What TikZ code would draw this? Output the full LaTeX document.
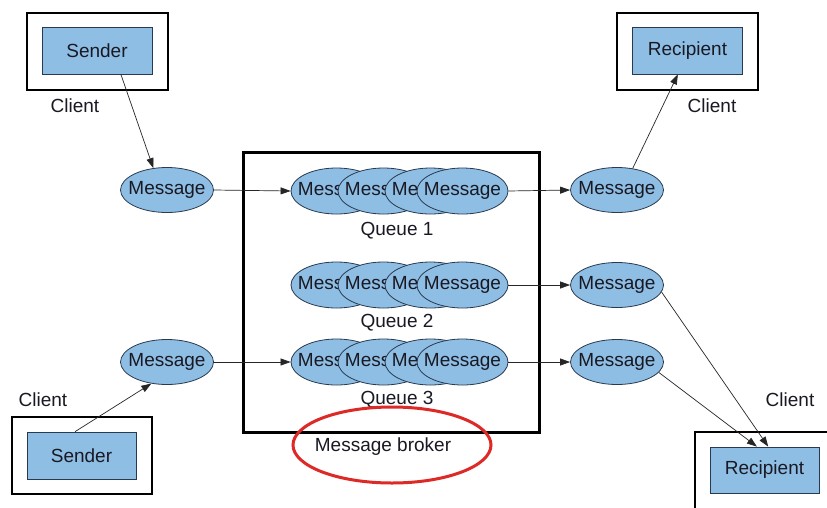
\documentclass[tikz,border=0pt]{standalone}
\usepackage{fontspec}
\setmainfont{Liberation Sans}
\usetikzlibrary{shapes.geometric,arrows.meta}
\definecolor{fillblue}{RGB}{143,190,228}
\definecolor{edgeblue}{RGB}{40,58,80}
\definecolor{brokerred}{RGB}{222,42,38}
\definecolor{inktext}{RGB}{25,25,35}
\newcommand{\nowidth}[1]{\makebox[0pt]{#1}}
\begin{document}
\begin{tikzpicture}[x=1pt,y=-1pt,
  font=\fontsize{19}{22}\selectfont, text=inktext,
  outerbox/.style={draw=black, line width=2pt, fill=white, minimum width=141pt, minimum height=77pt, inner sep=0pt},
  innerbox/.style={draw=edgeblue, line width=0.8pt, fill=fillblue, minimum width=110pt, minimum height=47pt, inner sep=0pt},
  msg/.style={ellipse, draw=edgeblue, line width=0.8pt, fill=fillblue, minimum width=93pt, minimum height=45pt, inner sep=0pt},
  qmsg/.style={msg, minimum width=91pt, minimum height=46pt},
  lbl/.style={inner sep=0pt},
  conn/.style={-{Triangle[length=10pt,width=7pt]}, line width=0.7pt, draw=black!85},
  brokerbox/.style={draw=black, line width=3pt, minimum width=296pt, minimum height=280pt, inner sep=0pt},
  highlight/.style={ellipse, draw=brokerred, line width=3pt, minimum width=198pt, minimum height=76pt, inner sep=0pt}
]
\clip (0,0) rectangle (827,507);
\fill[white] (0,0) rectangle (827,507);

% clients
\node[outerbox] (c1) at (97.5,51.5) {};
\node[innerbox] (s1) at (97,50.5) {Sender};
\node[lbl] (cl1) at (75,106) {Client};

\node[outerbox] (c2) at (687.5,51.5) {};
\node[innerbox] (rc1) at (687.5,50.5) {Recipient};
\node[lbl] (cl2) at (712,106) {Client};

\node[outerbox, minimum width=140pt] (c3) at (82,455.5) {};
\node[innerbox, minimum width=109pt] (s2) at (81.5,455.5) {Sender};
\node[lbl] (cl3) at (43,400) {Client};

\node[outerbox] (c4) at (765.5,470.5) {};
\node[innerbox, minimum width=109pt, minimum height=46pt] (rc2) at (764.5,470) {Recipient};
\node[lbl] (cl4) at (790,400) {Client};

% broker
\node[brokerbox] (broker) at (391,292) {};

% queues
\foreach \q/\y in {1/191,2/285,3/362}{
  \node[qmsg] (q\q a) at (336.5,\y) {\nowidth{Message}};
  \node[qmsg] (q\q b) at (383.5,\y) {\nowidth{Message}};
  \node[qmsg] (q\q c) at (430.5,\y) {\nowidth{Message}};
  \node[qmsg] (q\q d) at (462.5,\y) {\nowidth{Message}};
}
\node[lbl] (ql1) at (397,231) {Queue 1};
\node[lbl] (ql2) at (397,323) {Queue 2};
\node[lbl] (ql3) at (397,400) {Queue 3};

% messages outside
\node[msg] (m1) at (167,190) {\nowidth{Message}};
\node[msg] (m2) at (167,362) {\nowidth{Message}};
\node[msg] (r1) at (617,190) {\nowidth{Message}};
\node[msg] (r2) at (617,285) {\nowidth{Message}};
\node[msg] (r3) at (617,362) {\nowidth{Message}};

% broker label
\node[lbl] (bl) at (383,447) {Message broker};
\node[highlight] (hl) at (392,445) {};

% connectors
\draw[conn] (s1.-45) -- (m1.122);
\draw[conn] (s2.105) -- (m2.-126);
\draw[conn] (m1.east) -- (q1a.west);
\draw[conn] (m2.east) -- (q3a.west);
\draw[conn] (q1d.east) -- (r1.west);
\draw[conn] (q2d.east) -- (r2.west);
\draw[conn] (q3d.east) -- (r3.west);
\draw[conn] (r1.54) -- (rc1.-112);
\draw[conn] (r2.-9) -- (rc2.81);
\draw[conn] (r3.-14) -- (rc2.108);
\end{tikzpicture}
\end{document}
